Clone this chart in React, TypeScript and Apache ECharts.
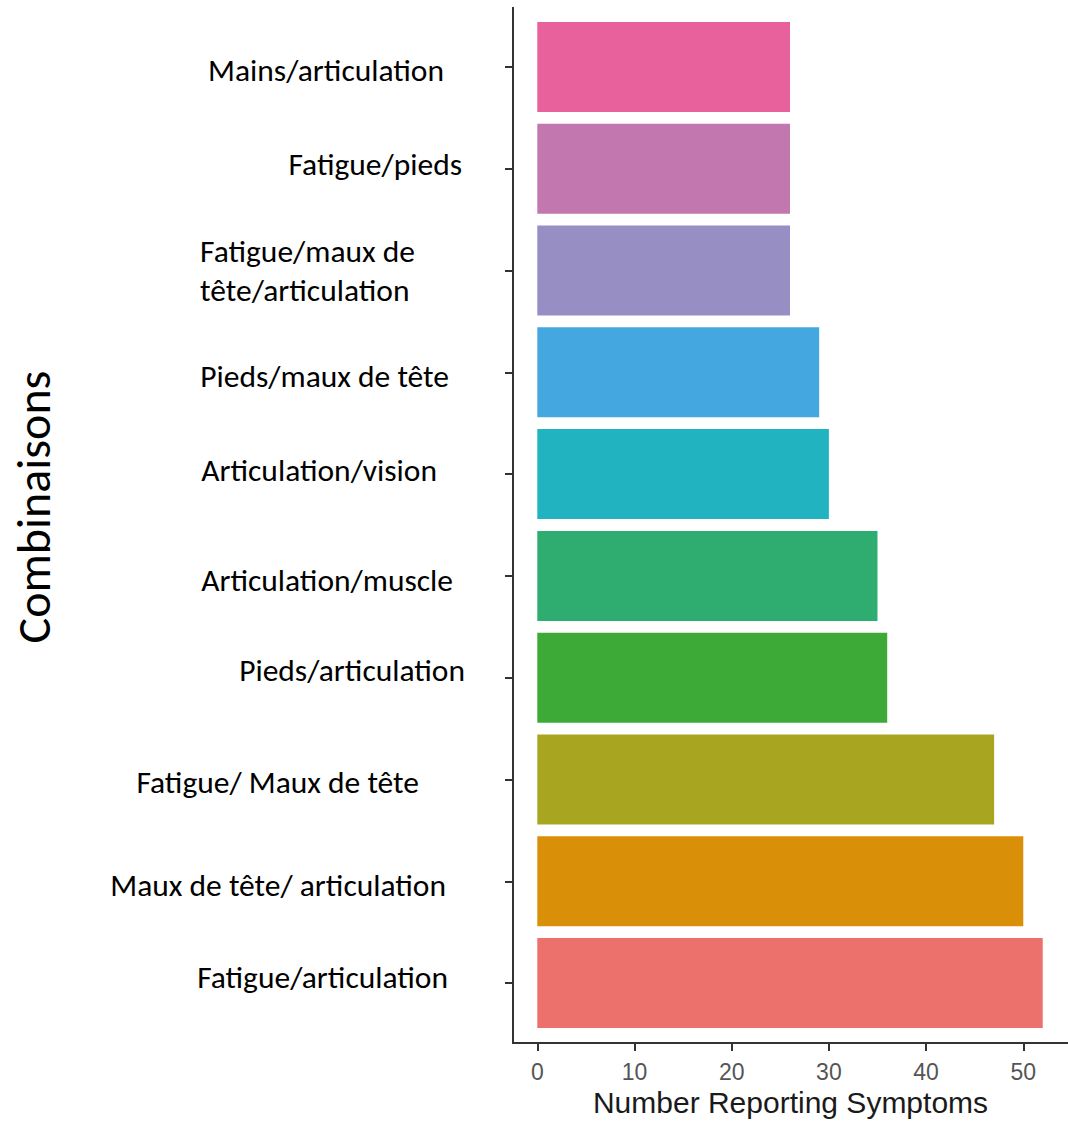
import React, { useEffect, useRef } from "react";
import * as echarts from "echarts";

const categories = [
  "Mains/articulation",
  "Fatigue/pieds",
  "Fatigue/maux de\ntête/articulation",
  "Pieds/maux de tête",
  "Articulation/vision",
  "Articulation/muscle",
  "Pieds/articulation",
  "Fatigue/ Maux de tête",
  "Maux de tête/ articulation",
  "Fatigue/articulation",
];
const values = [26, 26, 26, 29, 30, 35, 36, 47, 50, 52];
const barColors = [
  "#E8609C",
  "#C377AF",
  "#978EC4",
  "#44A7DF",
  "#21B4C0",
  "#2FAD70",
  "#3DA936",
  "#A8A521",
  "#D98F08",
  "#EC706B",
];
const xTicks = [0, 10, 20, 30, 40, 50];
const xTitle = "Number Reporting Symptoms";
const yTitle = "Combinaisons";

// label placement tweaks (right shift padding, vertical offset)
const labelPadRight = [61, 43, 90, 56, 68, 52, 40, 86, 59, 57];
const labelDy = [3, -5, 0, 4, -4, 4, -8, 2, 4, -6];

const LABEL_FONT = "Carlito, Lato, 'Open Sans', sans-serif";

export default function App() {
  const ref = useRef<HTMLDivElement>(null);
  useEffect(() => {
    if (!ref.current) return;
    const chart = echarts.init(ref.current, undefined, { renderer: "svg" });
    const rich: Record<string, any> = {};
    categories.forEach((_, i) => {
      const d = labelDy[i];
      rich["l" + i] = {
        fontFamily: LABEL_FONT,
        fontSize: 31.5,
        color: "#000",
        lineHeight: i === 2 ? 39 : 36,
        align: i === 2 ? "left" : "right",
        padding: [d > 0 ? 2 * d : 0, labelPadRight[i], d < 0 ? -2 * d : 0, 0],
      };
    });
    chart.setOption({
      animation: false,
      backgroundColor: "#ffffff",
      grid: { left: 513, top: 16, width: 559, height: 1018, containLabel: false },
      xAxis: {
        type: "value",
        min: -2.5,
        max: 54.6,
        offset: 9,
        splitLine: { show: false },
        axisLine: { show: true, onZero: false, lineStyle: { color: "#333", width: 2 } },
        axisTick: {
          show: true,
          customValues: xTicks,
          length: 8,
          lineStyle: { color: "#333", width: 2 },
        },
        axisLabel: {
          customValues: xTicks,
          color: "#555",
          fontSize: 23,
          fontFamily: "'Liberation Sans', Arial, sans-serif",
          margin: 17,
        },
        name: xTitle,
        nameLocation: "middle",
        nameGap: 43,
        nameTextStyle: {
          fontSize: 30,
          color: "#1a1a1a",
          fontFamily: "'Liberation Sans', Arial, sans-serif",
        },
      },
      yAxis: {
        type: "category",
        inverse: true,
        data: categories,
        axisLine: { show: false, onZero: false },
        axisTick: {
          show: true,
          alignWithLabel: true,
          length: 8,
          lineStyle: { color: "#333", width: 2 },
        },
        axisLabel: {
          margin: 8,
          formatter: (v: string, i: number) =>
            v
              .split("\n")
              .map((line) => `{l${i}|${line}}`)
              .join("\n"),
          rich,
        },
      },
      series: [
        {
          type: "bar",
          data: values.map((v, i) => ({ value: v, itemStyle: { color: barColors[i] } })),
          barWidth: 90,
        },
      ],
      graphic: [
        {
          type: "line",
          shape: { x1: 513, y1: 7, x2: 513, y2: 1044 },
          style: { stroke: "#333", lineWidth: 2 },
        },
        {
          type: "text",
          x: 33,
          y: 507,
          rotation: Math.PI / 2,
          style: {
            text: yTitle,
            font: `48px ${LABEL_FONT}`,
            fill: "#000",
            align: "center",
            verticalAlign: "middle",
          },
        },
      ],
    });
    return () => chart.dispose();
  }, []);
  return (
    <div
      ref={ref}
      style={{ position: "absolute", left: 0, top: 0, width: 1068, height: 1125, background: "#fff" }}
    />
  );
}
